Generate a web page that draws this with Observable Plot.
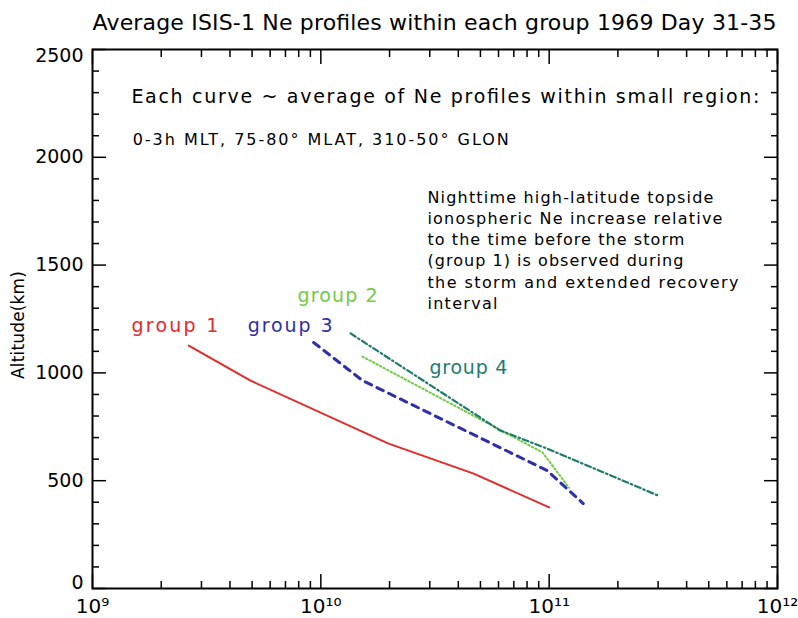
<!DOCTYPE html>
<html><head><meta charset="utf-8">
<script src="https://cdn.jsdelivr.net/npm/d3@7"></script>
<script src="https://cdn.jsdelivr.net/npm/@observablehq/plot@0.6"></script>
<style>body{margin:0;background:#fff} svg{display:block}</style>
</head><body><div id="chart"></div>
<script>
// ---- text ----
const titleText = "Average ISIS-1 Ne profiles within each group 1969 Day 31-35";
const yLabelText = "Altitude(km)";
const note1 = "Each curve ~ average of Ne profiles within small region:";
const note2 = "0-3h MLT, 75-80° MLAT, 310-50° GLON";
const noteLines = [
  "Nighttime high-latitude topside",
  "ionospheric Ne increase relative",
  "to the time before the storm",
  "(group 1) is observed during",
  "the storm and extended recovery",
  "interval"
];

// ---- data (Ne in cm^-3, altitude in km) ----
const groups = ["group 1", "group 2", "group 3", "group 4"];
const group1Ne  = [2.64e9, 4.9e9, 1.98e10, 4.67e10, 1.0e11];
const group1Alt = [1127, 965, 672, 533, 376];
const group2Ne  = [1.52e10, 9.35e10, 1.22e11];
const group2Alt = [1076, 631, 468];
const group3Ne  = [9.3e9, 1.52e10, 9.8e10, 1.41e11];
const group3Alt = [1141, 965, 547, 394];
const group4Ne  = [1.35e10, 6.1e10, 9.8e10, 3.0e11];
const group4Alt = [1183, 733, 649, 431];

// ---- ticks ----
const xMajorTicks = [1e9, 1e10, 1e11, 1e12];
const xMinorMultipliers = [2, 3, 4, 5, 6, 7, 8, 9];
const yMajorTicks = [0, 500, 1000, 1500, 2000, 2500];
const yMinorTicks = [100,200,300,400,600,700,800,900,1100,1200,1300,1400,1600,1700,1800,1900,2100,2200,2300,2400];

const xMinorTicks = xMajorTicks.slice(0, 3).flatMap(d => xMinorMultipliers.map(m => d * m));
const allNe = [group1Ne, group2Ne, group3Ne, group4Ne];
const allAlt = [group1Alt, group2Alt, group3Alt, group4Alt];
const rows = groups.flatMap((g, i) => allNe[i].map((ne, j) => ({group: g, ne, alt: allAlt[i][j]})));
const sel = g => rows.filter(r => r.group === g);

const colors = {"group 1": "#e52a2a", "group 2": "#72cc44", "group 3": "#2f2fa8", "group 4": "#1d7c70"};
const sup = {"0":"⁰","1":"¹","2":"²","3":"³","4":"⁴","5":"⁵","6":"⁶","7":"⁷","8":"⁸","9":"⁹"};
const fmtPow = d => "10" + String(Math.round(Math.log10(d))).split("").map(c => sup[c]).join("");
const blank = () => "";

const FONT = "DejaVu Sans";
const MAJ = 14, MIN = 7;
const tickStyle = {tickFormat: blank, label: null, strokeWidth: 1.5};
const yLabelStyle = {anchor: "left", tickSize: 0, tickPadding: 9, tickFormat: d => String(d), fontSize: 19, label: null};
const yLo = yMajorTicks.slice(0, 1), yMid = yMajorTicks.slice(1, -1), yHi = yMajorTicks.slice(-1);

const plot = Plot.plot({
  width: 798, height: 618,
  marginLeft: 92, marginRight: 21, marginTop: 49, marginBottom: 30,
  style: {fontFamily: FONT, fontSize: "19px", color: "black", background: "white", overflow: "visible"},
  x: {type: "log", domain: [1e9, 1e12]},
  y: {domain: [0, 2500]},
  marks: [
    // axes: labels (end labels pulled inward as in the reference)
    Plot.axisX(xMajorTicks, {anchor: "bottom", tickSize: 0, tickPadding: 10, tickFormat: fmtPow, fontSize: 20, label: null}),
    Plot.axisY(yMid, yLabelStyle),
    Plot.axisY(yLo, {...yLabelStyle, dy: -6}),
    Plot.axisY(yHi, {...yLabelStyle, dy: 6}),
    // inward ticks, all four sides
    Plot.axisX(xMajorTicks, {anchor: "bottom", tickSize: MAJ, dy: -MAJ, ...tickStyle}),
    Plot.axisX(xMinorTicks, {anchor: "bottom", tickSize: MIN, dy: -MIN, ...tickStyle}),
    Plot.axisX(xMajorTicks, {anchor: "top", tickSize: MAJ, dy: MAJ, ...tickStyle}),
    Plot.axisX(xMinorTicks, {anchor: "top", tickSize: MIN, dy: MIN, ...tickStyle}),
    Plot.axisY(yMajorTicks, {anchor: "left", tickSize: MAJ, dx: MAJ, ...tickStyle}),
    Plot.axisY(yMinorTicks, {anchor: "left", tickSize: MIN, dx: MIN, ...tickStyle}),
    Plot.axisY(yMajorTicks, {anchor: "right", tickSize: MAJ, dx: -MAJ, ...tickStyle}),
    Plot.axisY(yMinorTicks, {anchor: "right", tickSize: MIN, dx: -MIN, ...tickStyle}),
    Plot.frame({stroke: "black", strokeWidth: 2}),
    // curves
    Plot.line(sel("group 1"), {x: "ne", y: "alt", stroke: colors["group 1"], strokeWidth: 2}),
    Plot.line(sel("group 3"), {x: "ne", y: "alt", stroke: colors["group 3"], strokeWidth: 3, strokeDasharray: "7,6"}),
    Plot.line(sel("group 2"), {x: "ne", y: "alt", stroke: colors["group 2"], strokeWidth: 2, strokeDasharray: "1.5,2.5"}),
    Plot.line(sel("group 4"), {x: "ne", y: "alt", stroke: colors["group 4"], strokeWidth: 2.2, strokeDasharray: "6,3,1.5,3"}),
    // group labels
    Plot.text(["group 1"], {x: () => 1.48e9, y: () => 1220, text: d => d, fill: colors["group 1"], fontSize: 19, textAnchor: "start", lineAnchor: "middle"}),
    Plot.text(["group 2"], {x: () => 7.91e9, y: () => 1359, text: d => d, fill: colors["group 2"], fontSize: 19, textAnchor: "start", lineAnchor: "middle"}),
    Plot.text(["group 3"], {x: () => 4.78e9, y: () => 1220, text: d => d, fill: colors["group 3"], fontSize: 19, textAnchor: "start", lineAnchor: "middle"}),
    Plot.text(["group 4"], {x: () => 2.99e10, y: () => 1025, text: d => d, fill: colors["group 4"], fontSize: 19, textAnchor: "start", lineAnchor: "middle"}),
    // notes
    Plot.text([note1], {x: () => 1.48e9, y: () => 2282, text: d => d, fontSize: 19, textAnchor: "start", lineAnchor: "middle"}),
    Plot.text([note2], {x: () => 1.50e9, y: () => 2083, text: d => d, fontSize: 16, textAnchor: "start", lineAnchor: "middle"}),
    Plot.text([noteLines.join("\n")], {x: () => 2.93e10, y: () => 1575, text: d => d, fontSize: 16, lineHeight: 21.3 / 16, textAnchor: "start", lineAnchor: "middle"}),
    // title and y label
    Plot.text([titleText], {frameAnchor: "top-left", dy: -27, text: d => d, fontSize: 22, textAnchor: "start", lineAnchor: "middle"}),
    Plot.text([yLabelText], {frameAnchor: "left", dx: -74, dy: 6, rotate: -90, text: d => d, fontSize: 17, textAnchor: "middle", lineAnchor: "middle"})
  ]
});

// stretch text runs to the widths measured on the reference
const widths = new Map([
  [titleText, 684], [note1, 628], [note2, 376],
  ["group 1", 87], ["group 2", 80], ["group 3", 85], ["group 4", 78],
  [noteLines[0], 286], [noteLines[1], 295], [noteLines[2], 257],
  [noteLines[3], 256], [noteLines[4], 311], [noteLines[5], 70],
  [yLabelText, 108]
]);
plot.querySelectorAll("text, tspan").forEach(el => {
  if (el.querySelector("tspan")) return;
  const w = widths.get(el.textContent);
  if (w) el.setAttribute("textLength", w);
});
document.getElementById("chart").append(plot);
</script>
</body></html>
